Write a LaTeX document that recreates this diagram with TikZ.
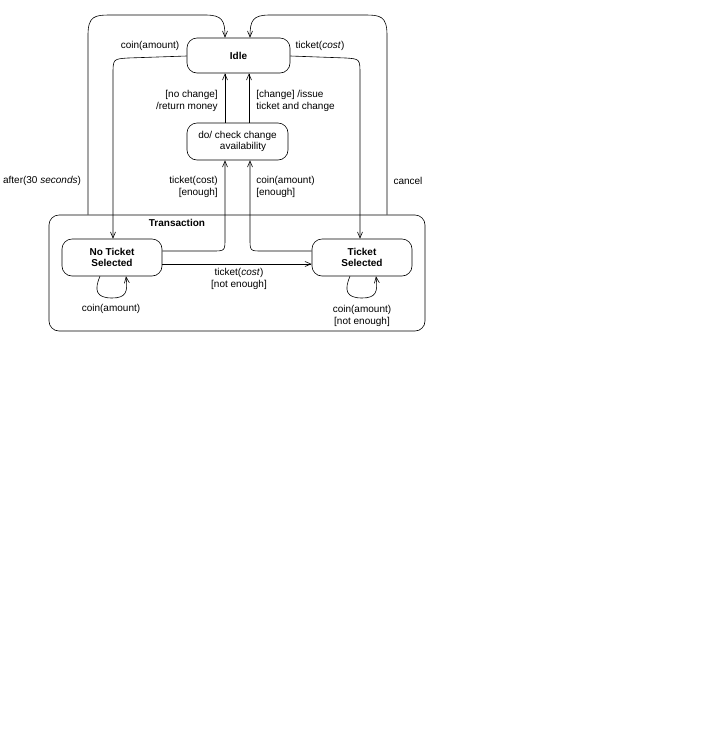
\documentclass[tikz,border=0pt]{standalone}
\usepackage{fontspec}
\setmainfont{Liberation Sans}
\usetikzlibrary{arrows.meta}
\begin{document}
\begin{tikzpicture}[x=1pt,y=-1pt,font=\fontsize{10}{11.5}\selectfont,line width=0.6pt,
  st/.style={draw,rounded corners=10pt,align=center,inner sep=0pt},
  ar/.style={-{Straight Barb[length=6pt,width=5pt]},line width=0.6pt},
  lb/.style={inner sep=1pt,align=center}]
\useasboundingbox (0,0) rectangle (706,756);
\node[st,minimum width=376pt,minimum height=116pt] (tr) at (237,273) {};
\node[font=\fontsize{10}{11.5}\selectfont\bfseries] (trl) at (177,223) {Transaction};
\node[st,minimum width=103pt,minimum height=35pt,font=\fontsize{10}{11.5}\selectfont\bfseries] (idle) at (238.5,55.5) {Idle};
\node[st,minimum width=101pt,minimum height=37pt] (chk) at (237.5,141.5) {do/ check change\\\ \ \ \ availability};
\node[st,minimum width=100pt,minimum height=37pt,font=\fontsize{10}{11.5}\selectfont\bfseries] (nts) at (112,257.5) {No Ticket\\Selected};
\node[st,minimum width=100pt,minimum height=37pt,font=\fontsize{10}{11.5}\selectfont\bfseries] (ts) at (362,257.5) {Ticket\\Selected};
% check -> idle
\draw[ar] (chk.north-|225,0) -- (idle.south-|225,0);
\draw[ar] (chk.north-|249,0) -- (idle.south-|249,0);
% idle -> states
\draw[ar] (idle.west|-0,56) -- (128,58) .. controls (113,59) .. (113,75) -- (nts.north-|113,0);
\draw[ar] (idle.east|-0,56) -- (346,58) .. controls (360,59) .. (360,75) -- (ts.north-|360,0);
% states -> check
\draw[ar] (nts.east|-0,251) -- (212,251) .. controls (225,251) .. (225,238) -- (chk.south-|225,0);
\draw[ar] (ts.west|-0,251) -- (262,251) .. controls (250,251) .. (250,238) -- (chk.south-|250,0);
% horizontal
\draw[ar] (nts.east|-0,264) -- (ts.west|-0,264);
% transaction -> idle
\draw[ar] (tr.north-|88,0) -- (88,35) .. controls (88,16) and (95,15) .. (110,15) -- (205,15) .. controls (222,15) and (225,20) .. (idle.north-|225,0);
\draw[ar] (tr.north-|387,0) -- (387,35) .. controls (387,16) and (380,15) .. (365,15) -- (270,15) .. controls (253,15) and (250,20) .. (idle.north-|250,0);
% self loops
\draw[ar] (nts.south-|100,0) .. controls (94,290) and (96,298) .. (112,298) .. controls (126,298) and (128,292) .. (nts.south-|126,0);
\draw[ar] (ts.south-|350,0) .. controls (344,290) and (346,298) .. (362,298) .. controls (376,298) and (378,292) .. (ts.south-|376,0);
% labels
\node[lb] (l1) at (150,46) {coin(amount)};
\node[lb] (l2) at (320,46) {ticket(\textit{cost})};
\node[lb] (l3) at (42,181) {after(30 \textit{seconds})};
\node[lb] (l4) at (408,181) {cancel};
\node[lb,anchor=east,align=right] (l5) at (219,101) {[no change]\\/return money};
\node[lb,anchor=west,align=left] (l6) at (255,101) {[change] /issue\\ticket and change};
\node[lb,anchor=east,align=right] (l7) at (219,187) {ticket(cost)\\{}[enough]};
\node[lb,anchor=west,align=left] (l8) at (255,187) {coin(amount)\\{}[enough]};
\node[lb] (l9) at (239,279) {ticket(\textit{cost})\\{}[not enough]};
\node[lb] (l10) at (111,309) {coin(amount)};
\node[lb] (l11) at (362,316) {coin(amount)\\{}[not enough]};
\end{tikzpicture}
\end{document}
